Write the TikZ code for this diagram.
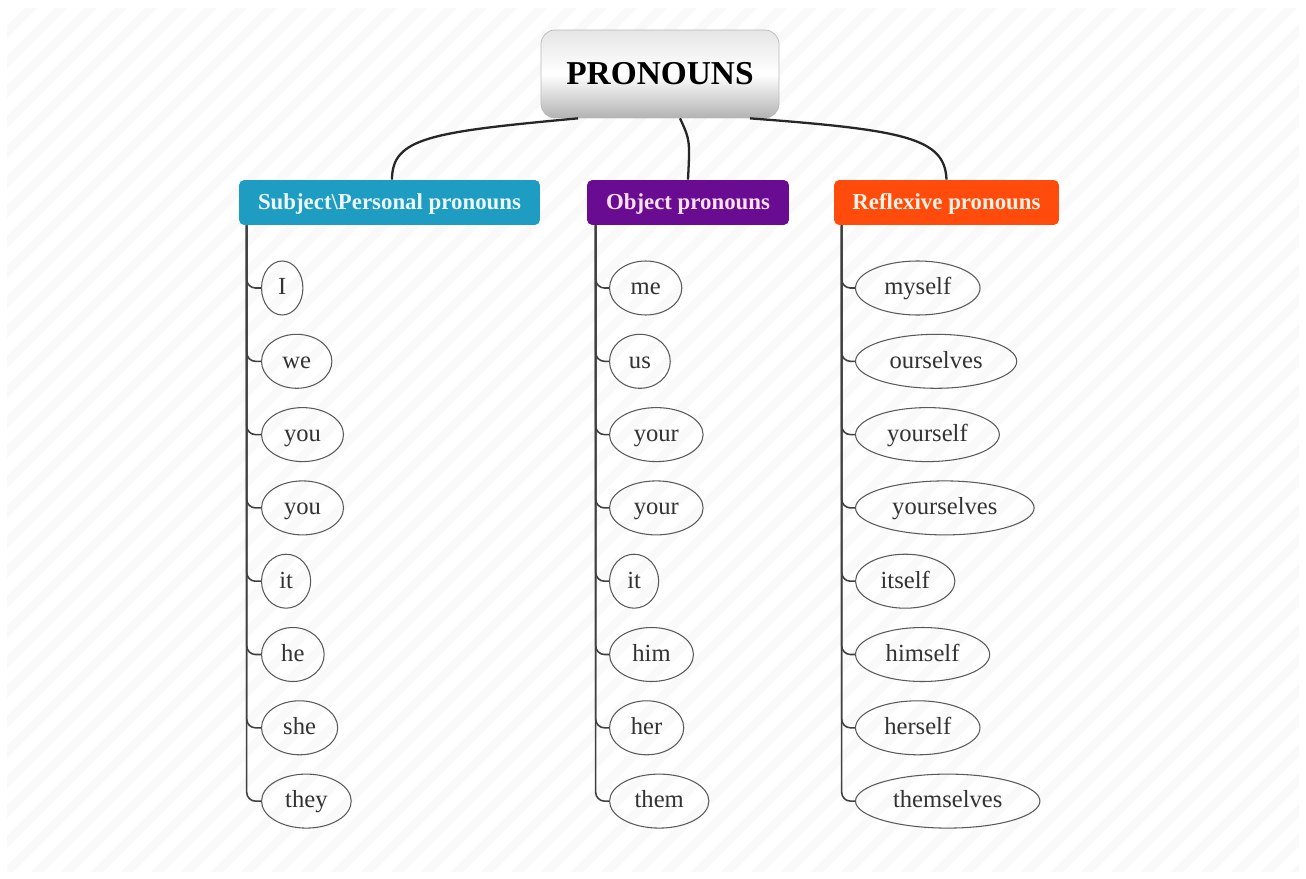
\documentclass[tikz,border=0pt]{standalone}
\usepackage{fontspec}
\setmainfont{Liberation Serif}
\usetikzlibrary{shapes.geometric, positioning}

\definecolor{subjblue}{HTML}{1E9CC1}
\definecolor{objpurple}{HTML}{6A0C92}
\definecolor{reflorange}{HTML}{FF4B0C}

\begin{document}
\begin{tikzpicture}[x=0.02cm, y=-0.02cm,
    ell/.style={ellipse, draw=gray!70!black, line width=0.6pt, inner xsep=6pt, inner ysep=2pt,
        text height=2ex, text depth=0.3ex,
        minimum height=1.08cm, anchor=west, text=black!80, font=\fontsize{14}{16}\selectfont},
    head/.style={rounded corners=3pt, minimum height=0.9cm, inner sep=0pt,
        text height=2ex, text depth=0.3ex,
        font=\bfseries\fontsize{13}{15}\selectfont},
    link/.style={line width=1.3pt, black!85},
    stem/.style={line width=0.9pt, black!75, rounded corners=5pt}]

    %% BACKGROUND
    \useasboundingbox (0,0) rectangle (1306,879);
    \fill[white] (0,0) rectangle (1306,879);
    \begin{scope}
        \clip (7,8) rectangle (1299,871);
        \foreach \k in {-900,-870,...,1320}
            \draw[gray!5, line width=5pt] (\k,879) -- ++(879,-879);
    \end{scope}

    %% NODES
    \node[rounded corners=8pt, draw=gray!55, top color=gray!20, bottom color=gray!60,
        middle color=white, minimum width=4.76cm, minimum height=1.76cm,
        font=\bfseries\fontsize{19}{22}\selectfont] (root) at (660,74) {PRONOUNS};

    \node[head, fill=subjblue, text=cyan!8, minimum width=6.02cm] (subj) at (389.5,202.5) {Subject\textbackslash Personal pronouns};
    \node[head, fill=objpurple, text=magenta!12, minimum width=4.04cm] (obj) at (688,202.5) {Object pronouns};
    \node[head, fill=reflorange, text=orange!10, minimum width=4.5cm] (refl) at (946.5,202.5) {Reflexive pronouns};

    % the three columns
    \foreach \w [count=\i] in {I,we,you,you,it,he,she,they}
        \node[ell] (s\i) at (261,{214.7+73.3*\i}) {\w};
    \foreach \w [count=\i] in {me,us,your,your,it,him,her,them}
        \node[ell] (o\i) at (609,{214.7+73.3*\i}) {\w};
    \foreach \w [count=\i] in {myself,ourselves,yourself,yourselves,itself,himself,herself,themselves}
        \node[ell] (r\i) at (855,{214.7+73.3*\i}) {\w};

    %% CONNECTORS
    \draw[link] ([xshift=-1.64cm]root.south) .. controls (430,132) and (392,138) .. ([xshift=0.05cm]subj.north);
    \draw[link] ([xshift=0.4cm]root.south) .. controls (690,140) .. (obj.north);
    \draw[link] ([xshift=1.8cm]root.south) .. controls (905,130) and (945,138) .. (refl.north);

    \foreach \i in {1,...,8} {
        \draw[stem] ([xshift=0.16cm]subj.south west) |- (s\i.west);
        \draw[stem] ([xshift=0.18cm]obj.south west) |- (o\i.west);
        \draw[stem] ([xshift=0.16cm]refl.south west) |- (r\i.west);
    }

\end{tikzpicture}
\end{document}
